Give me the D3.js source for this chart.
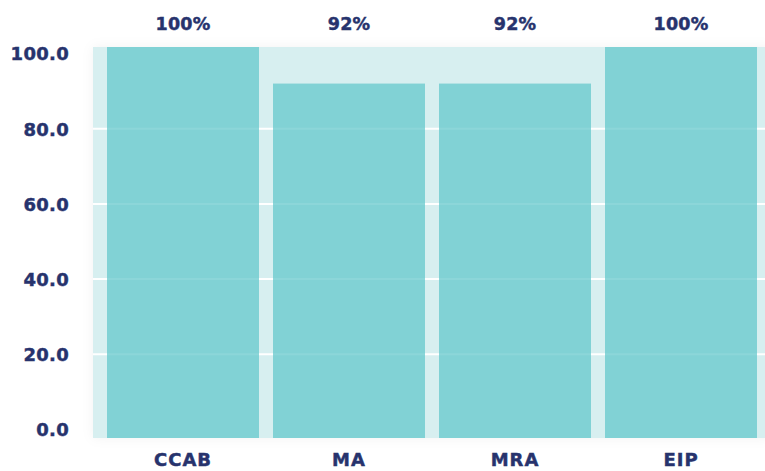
<!DOCTYPE html>
<html>
<head>
<meta charset="utf-8">
<script src="https://cdn.jsdelivr.net/npm/d3@7/dist/d3.min.js"></script>
<style>
  html, body { margin: 0; padding: 0; background: #ffffff; }
  text { font-family: 'DejaVu Sans', sans-serif; font-weight: bold; fill: #27336d; stroke: #27336d; stroke-width: 0.45px; }
</style>
</head>
<body>
<div id="chart"></div>
<script>
const categories = ['CCAB', 'MA', 'MRA', 'EIP'];
const values = [100, 92, 92, 100];
const yTicks = [0, 20, 40, 60, 80, 100];

const width = 765;
const height = 471;
const plot = { left: 93, right: 771, top: 47, bottom: 438 };

const svg = d3.select('#chart')
  .append('svg')
  .attr('width', width)
  .attr('height', height);

const defs = svg.append('defs');
const glow = defs.append('filter')
  .attr('id', 'glow')
  .attr('x', '-10%').attr('y', '-10%')
  .attr('width', '120%').attr('height', '120%');
glow.append('feDropShadow')
  .attr('dx', 0).attr('dy', 0)
  .attr('stdDeviation', 6)
  .attr('flood-color', '#000')
  .attr('flood-opacity', 0.05);

const x = d3.scaleBand()
  .domain(categories)
  .range([plot.left, plot.right])
  .paddingInner(14 / 166)
  .paddingOuter(14 / 166);

// 0 sits a little above the frame bottom, 100 a little below its top
const y = d3.scaleLinear()
  .domain([0, 100])
  .range([429.5, 53.5]);

// plot background
svg.append('rect')
  .attr('x', plot.left)
  .attr('y', plot.top)
  .attr('width', plot.right - plot.left)
  .attr('height', plot.bottom - plot.top)
  .attr('fill', '#d7eff0')
  .attr('filter', 'url(#glow)');

// grid lines (under translucent bars)
svg.append('g')
  .selectAll('line')
  .data(yTicks.filter(d => d > 0 && d < 100))
  .enter()
  .append('line')
  .attr('x1', plot.left)
  .attr('x2', plot.right)
  .attr('y1', d => y(d))
  .attr('y2', d => y(d))
  .attr('stroke', '#ffffff')
  .attr('stroke-width', 2);

// bars: full ones fill to the frame top
svg.append('g')
  .selectAll('rect')
  .data(values)
  .enter()
  .append('rect')
  .attr('x', (d, i) => x(categories[i]))
  .attr('width', x.bandwidth())
  .attr('y', d => d >= 100 ? plot.top : y(d))
  .attr('height', d => plot.bottom - (d >= 100 ? plot.top : y(d)))
  .attr('fill', '#5fc6cb')
  .attr('fill-opacity', 0.72);

// y axis labels
const yAxis = d3.axisLeft(y)
  .tickValues(yTicks)
  .tickFormat(d3.format('.1f'))
  .tickSize(0)
  .tickPadding(0);

svg.append('g')
  .attr('transform', 'translate(69, 0)')
  .call(yAxis)
  .call(g => g.select('.domain').remove())
  .selectAll('text')
  .attr('font-size', 18)
  .attr('letter-spacing', 0.3)
  .attr('dy', '0.36em');

// x axis labels
const xAxis = d3.axisBottom(x).tickSize(0).tickPadding(0);

svg.append('g')
  .attr('transform', 'translate(0, 453)')
  .call(xAxis)
  .call(g => g.select('.domain').remove())
  .selectAll('text')
  .attr('font-size', 18)
  .attr('letter-spacing', 1)
  .attr('dy', '0.73em');

// value labels above bars
svg.append('g')
  .selectAll('text')
  .data(values)
  .enter()
  .append('text')
  .attr('x', (d, i) => x(categories[i]) + x.bandwidth() / 2)
  .attr('y', 29.5)
  .attr('text-anchor', 'middle')
  .attr('font-size', 17.5)
  .attr('letter-spacing', 0.2)
  .text(d => d + '%');
</script>
</body>
</html>
